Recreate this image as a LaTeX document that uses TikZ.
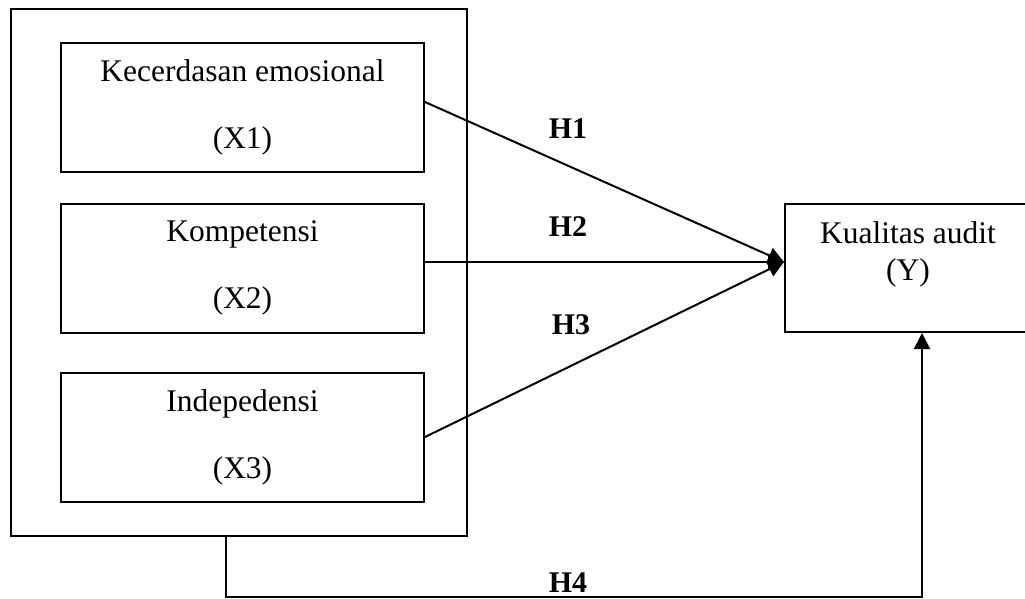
\documentclass[tikz,border=0pt]{standalone}
\usepackage{fontspec}
\setmainfont{Liberation Serif}
\usetikzlibrary{
	positioning,
	arrows.meta
}

\begin{document}
\begin{tikzpicture}[x=1pt,y=-1pt,
		var/.style={draw,line width=2pt,minimum width=363pt,minimum height=129pt,
			inner sep=0pt,align=center,font=\fontsize{31.5}{67}\selectfont},
		hyp/.style={font=\fontsize{30}{36}\selectfont\bfseries},
		link/.style={line width=2pt,-{Triangle[length=16pt,width=16pt]}}
	]
		\useasboundingbox (0,0) rectangle (1025,598);

		\draw
			node[draw,line width=2pt,minimum width=456pt,minimum height=527pt] (group) at (239,272.5) {}
			node[var] (x1) at (242.5,107.5) {Kecerdasan emosional\\(X1)}
			node[var] (x2) at (242.5,268)   {Kompetensi\\(X2)}
			node[var] (x3) at (242.5,437)   {Indepedensi\\(X3)}
			node[draw,line width=2pt,minimum width=260pt,minimum height=128pt] (y) at (915,268) {}
			node[below=18.5pt of y.north,xshift=-7pt,align=center,inner sep=0pt,
				font=\fontsize{31.5}{37}\selectfont] (ytext) {Kualitas audit\\(Y)}
		;

		% hypotheses
		\draw[link] ([yshift=5.5pt]x1.east) -- ([yshift=6pt]y.west);
		\draw[link] ([yshift=6pt]x2.east)   -- ([yshift=6pt]y.west);
		\draw[link] (x3.east)               -- ([yshift=6pt]y.west);
		\draw[link] ([xshift=-13pt]group.south) -- ++(0,60) -| ([xshift=7pt]y.south);

		\node[hyp] (h1) at (568,129) {H1};
		\node[hyp] (h2) at (568,227) {H2};
		\node[hyp] (h3) at (571,325) {H3};
		\node[hyp] (h4) at (568,583) {H4};
	\end{tikzpicture}
\end{document}
